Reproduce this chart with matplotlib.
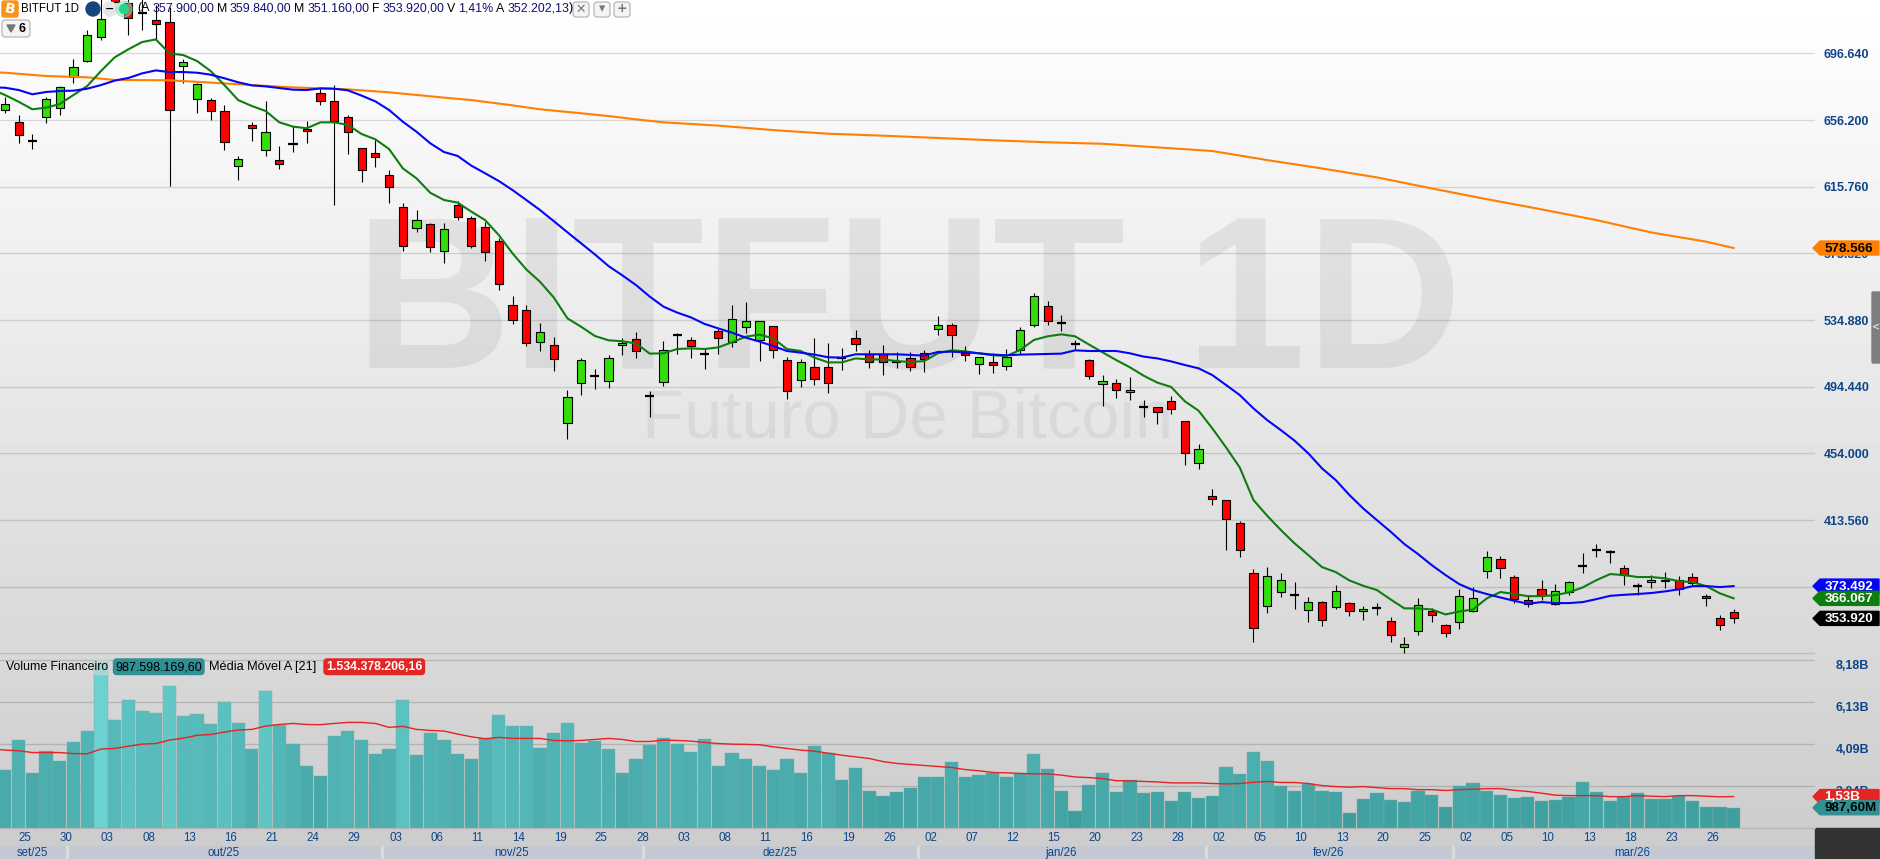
import numpy as np
import matplotlib
matplotlib.use('Agg')
import matplotlib.pyplot as plt
from matplotlib.patches import Rectangle, Polygon, Circle, FancyBboxPatch
from matplotlib.colors import LinearSegmentedColormap

# prices in thousands
open_ = [662.1,654.8,643.5,658.2,663.3,682.5,691.8,706.4,730.0,727.4,
         721.3,716.9,715.5,688.8,668.7,668.1,661.5,628.1,653.0,637.8,
         631.7,641.4,650.7,672.4,667.5,657.8,639.0,636.0,622.6,603.6,
         590.9,592.9,576.5,604.4,596.6,591.1,582.6,544.3,540.7,521.3,
         519.5,472.2,496.4,501.1,498.2,519.5,523.1,488.8,497.1,526.0,
         522.6,514.5,528.0,521.4,530.5,522.6,531.1,510.4,498.3,506.2,
         506.2,511.6,523.8,514.1,514.1,509.6,511.6,514.7,529.2,531.7,
         515.1,508.0,509.2,506.8,516.5,531.7,543.2,533.1,520.5,510.4,
         495.9,496.5,491.0,482.3,481.9,485.6,473.4,448.0,427.9,425.5,
         411.5,381.2,361.2,369.7,367.8,358.7,363.6,360.6,363.0,358.1,
         360.2,352.1,336.3,346.0,358.1,349.6,351.5,358.1,382.4,389.7,
         378.8,364.8,371.5,362.6,369.7,385.4,395.1,394.1,384.2,373.3,
         375.7,377.5,377.5,378.8,367.2,353.9,357.9]
close = [665.7,646.9,643.5,669.1,676.0,688.2,707.6,717.3,727.6,717.9,
         721.3,714.6,662.1,691.2,677.8,661.5,642.7,632.3,651.2,648.7,
         629.3,641.4,649.3,667.5,655.4,648.7,625.7,633.6,615.4,580.0,
         595.3,579.0,589.9,597.6,580.0,575.9,556.5,535.2,520.7,527.4,
         511.0,488.5,510.4,501.1,511.6,520.7,516.4,488.8,516.5,526.0,
         519.3,514.5,523.8,535.3,534.1,534.1,516.5,491.6,509.2,498.9,
         496.5,511.6,520.1,509.2,509.2,509.6,506.2,511.0,531.7,525.6,
         513.5,512.3,507.4,512.3,528.6,549.3,534.1,533.1,520.5,500.7,
         497.7,492.2,492.2,482.3,479.3,480.7,454.0,456.4,426.1,413.9,
         395.1,347.8,379.4,376.9,367.8,363.6,352.7,370.3,358.1,359.4,
         360.2,343.6,338.1,361.8,355.7,344.8,367.2,366.0,390.9,384.2,
         365.4,362.6,367.8,370.3,375.7,385.4,395.1,394.1,380.2,373.3,
         377.5,376.3,371.5,375.1,366.0,349.6,353.92]
high = [670.4,659.2,647.5,670.4,676.8,693.0,710.8,731.0,735.0,731.0,
        731.0,726.0,725.0,693.0,678.5,669.4,665.3,634.4,655.0,667.7,
        640.4,652.6,655.6,675.8,677.4,659.2,639.0,644.1,625.9,605.9,
        601.6,593.7,593.5,607.1,598.0,594.5,584.6,549.4,543.9,533.0,
        524.5,492.2,511.6,505.1,513.6,523.7,527.4,491.8,522.2,527.0,
        524.4,517.1,529.4,544.0,545.8,534.1,531.1,512.3,511.2,523.8,
        520.7,517.7,528.8,516.7,519.5,515.3,515.3,516.7,537.3,533.1,
        519.1,512.7,514.7,517.3,530.7,551.3,546.2,537.7,522.8,511.0,
        501.3,498.9,500.3,486.4,481.9,488.8,473.4,459.5,432.3,425.5,
        412.7,383.8,385.0,381.2,375.7,366.6,364.2,373.9,363.6,361.2,
        363.0,354.5,342.4,366.0,360.0,350.3,371.5,372.7,394.7,391.7,
        380.0,368.4,377.1,374.7,376.3,393.3,398.8,395.5,386.0,375.1,
        380.2,381.8,379.4,381.2,368.7,355.7,359.84]
low = [660.7,642.1,638.6,654.6,659.2,678.5,691.4,704.7,727.0,707.8,
       710.8,705.1,616.4,678.9,660.7,656.2,638.0,619.8,643.5,634.6,
       626.5,636.8,642.1,665.3,604.6,635.6,618.6,627.5,606.1,576.7,
       588.3,576.3,569.7,595.5,578.8,570.7,553.3,532.4,519.3,516.0,
       503.9,462.6,489.3,493.0,493.6,513.6,511.8,476.3,495.1,514.1,
       512.1,505.2,514.3,518.5,527.2,510.0,511.9,487.0,494.5,495.5,
       490.8,504.6,516.1,506.0,501.5,505.6,504.2,503.6,525.8,512.5,
       510.0,502.1,502.8,504.6,514.3,530.7,531.7,528.0,517.1,499.1,
       482.7,487.6,486.4,476.1,471.8,478.1,447.1,444.5,422.8,395.5,
       391.3,339.7,357.3,366.8,359.8,351.9,349.4,359.8,355.5,353.1,
       355.9,339.7,333.1,344.0,351.7,342.6,347.4,357.5,378.6,378.6,
       363.0,360.8,364.8,362.2,367.8,381.4,391.1,387.3,374.1,367.8,
       372.1,372.1,367.8,373.3,361.6,346.8,351.16]

# averages start one bar before the first visible candle, so they reach the left edge
ma_green = [675.0,671.4,667.3,662.7,663.7,665.9,671.4,676.8,685.9,694.2,699.1,
            703.5,705.1,696.6,695.6,692.0,685.9,677.4,668.3,664.7,661.7,
            654.8,652.2,651.2,654.8,654.8,653.2,647.7,644.5,638.6,626.9,
            620.8,612.1,607.7,606.1,600.6,595.5,586.4,575.3,565.6,558.1,
            548.6,535.9,530.8,525.2,522.6,522.0,520.7,514.5,514.7,517.3,
            517.7,517.3,518.3,521.4,524.8,526.0,523.8,517.3,516.1,512.1,
            509.2,509.2,511.6,511.0,511.0,510.0,509.4,510.0,514.7,516.5,
            515.9,514.7,513.5,513.1,516.7,522.8,525.0,526.2,525.0,520.1,
            515.3,510.6,506.2,501.1,496.9,494.3,485.6,479.9,469.2,457.7,
            445.5,425.7,416.2,407.5,399.4,392.3,385.0,382.0,376.9,373.7,
            371.1,365.4,360.0,360.0,359.3,356.3,358.1,359.3,366.0,369.9,
            368.7,367.4,367.4,368.0,369.7,372.7,377.1,380.8,380.2,379.0,
            379.0,378.2,376.5,375.9,373.5,369.1,366.067]
ma_blue = [676.0,675.8,674.4,671.8,673.2,673.8,674.0,675.2,677.4,680.1,681.7,
           684.5,686.3,685.3,685.3,684.9,683.7,681.5,679.1,677.2,676.6,
           675.6,674.6,674.4,675.4,675.2,674.2,671.0,667.5,662.3,655.2,
           649.1,642.1,636.8,634.4,628.5,623.9,619.2,613.7,607.7,601.6,
           594.9,588.1,581.4,574.7,567.6,562.0,556.1,549.1,543.0,539.4,
           536.5,532.5,529.8,527.2,524.2,521.8,519.1,516.1,515.1,513.9,
           512.3,512.1,514.1,514.1,514.1,514.1,513.7,513.3,515.5,515.7,
           515.3,514.7,513.9,513.5,513.9,514.1,514.3,514.5,516.5,516.1,
           516.1,516.1,514.7,512.7,511.6,509.8,507.6,505.6,501.5,495.5,
           489.4,481.3,474.2,468.1,461.7,454.0,444.9,437.8,428.7,420.6,
           413.5,406.5,399.0,392.9,386.2,380.2,374.7,371.1,368.7,366.6,
           364.6,362.8,363.8,363.2,363.2,363.8,365.6,367.6,368.2,368.7,
           369.3,370.3,371.5,373.5,373.5,372.9,373.492]
# the orange average is almost straight, read at these bars only
orange_bars = [-1,0,3,6,8,12,15,18,21,23,25,28,30,32,34,37,39,42,44,46,48,52,56,60,64,
               68,72,76,80,84,88,92,96,100,104,108,112,116,120,124,126]
ma_orange = [685.2,684.9,682.9,682.1,680.5,680.3,678.9,677.4,676.0,675.4,674.8,673.0,671.4,
             669.8,668.3,665.1,662.7,660.3,658.6,656.6,654.8,652.8,650.1,647.9,646.7,
             645.3,643.9,642.7,641.8,639.6,637.4,631.9,626.8,621.4,614.7,608.2,602.0,
             595.5,588.0,582.4,578.566]

# financial volume, in billions
volume = [2.82,4.29,2.67,3.75,3.26,4.19,4.73,8.12,5.26,6.24,5.71,5.61,6.93,5.46,5.56,5.07,
          6.15,5.12,3.85,6.68,5.02,4.09,3.02,2.53,4.48,4.73,4.29,3.60,3.85,6.24,3.55,4.63,
          4.29,3.60,3.36,4.38,5.51,4.97,4.97,3.90,4.63,5.12,4.14,4.24,3.85,2.67,3.36,4.04,
          4.38,4.09,3.70,4.34,3.02,3.65,3.36,3.02,2.82,3.36,2.67,3.99,3.65,2.33,2.92,1.79,
          1.55,1.74,1.94,2.48,2.48,3.21,2.48,2.58,2.67,2.48,2.67,3.60,2.87,1.79,0.82,2.09,
          2.67,1.74,2.33,1.70,1.74,1.30,1.74,1.45,1.55,2.97,2.62,3.70,3.26,2.04,1.79,2.14,
          1.79,1.74,0.72,1.40,1.70,1.35,1.26,1.79,1.60,1.01,2.04,2.18,1.79,1.60,1.45,1.50,
          1.30,1.35,1.50,2.23,1.74,1.30,1.50,1.70,1.40,1.40,1.55,1.30,1.01,1.01,0.9876]
volume_ma = [3.86,3.80,3.77,3.68,3.68,3.68,3.63,3.62,3.85,3.88,3.99,4.09,4.12,4.29,4.38,4.52,4.56,
             4.68,4.78,4.81,4.97,5.05,5.10,5.05,5.04,5.10,5.15,5.15,5.10,4.91,4.96,4.81,4.76,
             4.73,4.58,4.45,4.35,4.42,4.37,4.37,4.37,4.27,4.25,4.27,4.32,4.37,4.32,4.22,4.22,
             4.29,4.27,4.24,4.17,4.12,4.09,4.08,4.06,3.96,3.88,3.80,3.75,3.65,3.55,3.47,3.39,
             3.24,3.15,3.10,3.05,3.00,2.95,2.85,2.79,2.71,2.69,2.66,2.64,2.64,2.58,2.49,2.46,
             2.41,2.31,2.30,2.27,2.25,2.20,2.20,2.20,2.17,2.15,2.17,2.23,2.27,2.22,2.22,2.17,
             2.07,2.02,1.99,2.02,1.97,1.92,1.92,1.87,1.87,1.83,1.87,1.89,1.92,1.92,1.84,1.78,
             1.70,1.60,1.58,1.58,1.58,1.53,1.53,1.58,1.55,1.53,1.58,1.58,1.55,1.52,1.534]

price_ticks = [696.64,656.2,615.76,575.32,534.88,494.44,454.0,413.56,373.12,332.68]
price_labels = ['696.640','656.200','615.760','575.320','534.880','494.440','454.000','413.560','373.120','']
vol_ticks = [8.18,6.13,4.09,2.04]
vol_labels = ['8,18B','6,13B','4,09B','2,04B']
day_labels = ['25','30','03','08','13','16','21','24','29','03','06','11','14','19','25','28',
              '03','08','11','16','19','26','02','07','12','15','20','23','28','02','05','10',
              '13','20','25','02','05','10','13','18','23','26']
months = ['set/25','out/25','nov/25','dez/25','jan/26','fev/26','mar/26']

W, H = 1881, 859
NAVY = '#0d4588'
GREEN = '#35dc0c'
RED = '#ff0000'
PLOT_R = 1815
PRICE_B = 656
VOL_B = 828
FONT = 'Liberation Sans'

fig = plt.figure(figsize=(W/100, H/100), dpi=100)


def px_axes(x0, y0, x1, y1):
    return fig.add_axes([x0/W, 1 - y1/H, (x1 - x0)/W, (y1 - y0)/H])


# background gradient and the strips under the volume panel
bg = px_axes(0, 0, W, H)
rows = np.arange(H)
shade = np.interp(rows, [0, 280, 580, 660, 828], [255, 238, 220, 216, 205])
bg.imshow(shade[:, None], cmap='gray', vmin=0, vmax=255, aspect='auto', extent=(0, W, H, 0))
bg.add_patch(Rectangle((0, VOL_B), PLOT_R, 18, color='#cdcdcd'))
bg.add_patch(Rectangle((0, 846), PLOT_R, 13, color='#c3c8d3'))
bg.add_patch(Rectangle((PLOT_R, VOL_B), W - PLOT_R, H - VOL_B, color='#333333'))
for sx in [66.5, 382, 643, 918, 1206, 1452.5]:
    bg.add_patch(Rectangle((sx - 1, 846), 2, 13, color='#dadada'))
bg.axis('off')

n = len(close)
x = np.arange(n)
line_x = np.arange(-1, n)
xlim = (-0.357, 131.93)

# price panel
ax = px_axes(0, 0, PLOT_R, PRICE_B)
ax.patch.set_alpha(0)
ax.set_xlim(xlim)
ax.set_ylim(331.1, 729.0)
for s in ax.spines.values():
    s.set_visible(False)
ax.set_xticks([])
ax.yaxis.tick_right()
ax.set_yticks(price_ticks)
ax.set_yticklabels(price_labels, ha='right', color=NAVY, fontweight='bold', fontsize=9, family=FONT)
ax.tick_params(axis='y', length=0, pad=39)
ax.grid(axis='y', color='black', alpha=0.13, lw=1)
ax.set_axisbelow(True)

wm = ax.transAxes
ax.text(355/PLOT_R, 1 - 368/PRICE_B, 'BITFUT 1D', transform=wm, fontsize=156, fontweight='bold', family=FONT,
        color='black', alpha=0.065, va='baseline', ha='left', zorder=0.5)
ax.text(642/PLOT_R, 1 - 438/PRICE_B, 'Futuro De Bitcoin', transform=wm, fontsize=49.5, family=FONT,
        color='black', alpha=0.055, va='baseline', ha='left', zorder=0.5)

o = np.array(open_)
c = np.array(close)
ax.vlines(x, low, high, color='black', lw=0.8, zorder=2)
up = c > o
down = c < o
doji = c == o
ax.bar(x[up], (c - o)[up], bottom=o[up], width=0.6, color=GREEN, edgecolor='black', lw=0.8, zorder=2.2)
ax.bar(x[down], (o - c)[down], bottom=c[down], width=0.6, color=RED, edgecolor='black', lw=0.8, zorder=2.2)
ax.hlines(c[doji], x[doji] - 0.33, x[doji] + 0.33, color='black', lw=1.6, zorder=2.2)

ax.plot(orange_bars, ma_orange, color='#ff8000', lw=1.5, zorder=3)
ax.plot(line_x, ma_green, color='#0e7d10', lw=1.5, zorder=3.1)
ax.plot(line_x, ma_blue, color='#0505f5', lw=1.5, zorder=3.2)

# volume panel
ax2 = px_axes(0, PRICE_B, PLOT_R, VOL_B)
ax2.patch.set_alpha(0)
ax2.set_xlim(xlim)
ax2.set_ylim(0, 8.39)
for s in ax2.spines.values():
    s.set_visible(False)
ax2.spines['bottom'].set_visible(True)
ax2.spines['bottom'].set_color('#b4b4b4')
ax2.yaxis.tick_right()
ax2.set_yticks(vol_ticks)
ax2.set_yticklabels(vol_labels, ha='right', color=NAVY, fontweight='bold', fontsize=9, family=FONT, va='top')
ax2.tick_params(axis='y', length=0, pad=39)
ax2.grid(axis='y', color='black', alpha=0.15, lw=1)
ax2.set_axisbelow(True)
ax2.set_xticks(x[1:len(day_labels)*3:3])
ax2.set_xticklabels(day_labels, ha='left', color=NAVY, fontsize=8.3, family=FONT)
ax2.tick_params(axis='x', length=0, pad=3)

teal = LinearSegmentedColormap.from_list('teal', ['#3a9898', '#44a6a6', '#4eb0b0', '#5bc0c0', '#6dd2d2'])
ax2.bar(x, volume, width=0.96, color=teal(np.array(volume)/8.2), edgecolor='#7fa9a9', lw=0.3, zorder=2)
ax2.plot(line_x, volume_ma, color='#e62222', lw=1, zorder=3)

# overlay in pixel coordinates: badges and legends
ov = px_axes(0, 0, W, H)
ov.set_xlim(0, W)
ov.set_ylim(H, 0)
ov.axis('off')
ov.patch.set_alpha(0)

for m, mx in zip(months, [32.6, 224, 512, 780, 1061, 1329, 1632]):
    ov.text(mx, 853, m, ha='center', va='center', color=NAVY, fontsize=8.3, family=FONT, zorder=2)


def tag(axis, value, text, face, tc):
    y = ov.transData.inverted().transform(axis.transData.transform((0, value)))[1]
    ov.add_patch(Polygon([(1813, y), (1820, y - 7), (1879, y - 7), (1879, y + 7), (1820, y + 7)],
                         closed=True, color=face, zorder=2))
    ov.text(1824.5, y + 0.5, text, ha='left', va='center', color=tc, fontweight='bold',
            fontsize=9.6, family=FONT, zorder=3)


tag(ax, 578.566, '578.566', '#ff8000', 'black')
tag(ax, ma_blue[-1], '373.492', '#0505f5', 'white')
tag(ax, ma_green[-1], '366.067', '#0e7d10', 'white')
tag(ax, close[-1], '353.920', 'black', 'white')
tag(ax2, volume_ma[-1], '1,53B', '#e22626', 'white')
tag(ax2, volume[-1], '987,60M', '#2f9094', 'black')

# side handle
ov.add_patch(FancyBboxPatch((1872, 292), 9, 71, boxstyle='round,pad=0,rounding_size=1.5', color='#7e7e7e', zorder=2))
ov.text(1876, 327, '<', color='#dddddd', fontsize=7, ha='center', va='center', fontweight='bold', zorder=3)

# header icons
ov.add_patch(FancyBboxPatch((2, 1), 16, 16, boxstyle='round,pad=0,rounding_size=2', color='#f7931a', zorder=4))
ov.text(10, 9.5, 'B', color='white', fontweight='bold', fontsize=10, ha='center', va='center', rotation=-12, zorder=5)
ov.add_patch(Circle((93, 9), 7, color='#17467c', zorder=4))
ov.add_patch(Circle((110, 9), 7, color='#e6e6e6', zorder=4))
ov.text(110, 8.5, '\u2212', color='black', fontweight='bold', fontsize=8, ha='center', va='center', zorder=5)
ov.add_patch(Circle((124, 9), 8, color='#7fe0b0', alpha=0.5, zorder=4))
ov.add_patch(Circle((124, 9), 4.5, color='#25d68a', zorder=4.5))
ov.text(21, 8.5, 'BITFUT 1D', color='black', fontsize=8.3, family=FONT, va='center', zorder=5)

fig.canvas.draw()
renderer = fig.canvas.get_renderer()
runs = [('(A ', 'black'), ('357.900,00 ', '#101070'), ('M ', 'black'), ('359.840,00 ', '#101070'),
        ('M ', 'black'), ('351.160,00 ', '#101070'), ('F ', 'black'), ('353.920,00 ', '#101070'),
        ('V ', 'black'), ('1,41% ', '#101070'), ('A ', 'black'), ('352.202,13', '#101070'), (')', 'black')]
tx = 137.0
for s, col in runs:
    t = ov.text(tx, 8.5, s.strip(), color=col, fontsize=8.9, family=FONT, va='center', zorder=5)
    tx += t.get_window_extent(renderer).width + (2.8 if s.endswith(' ') else 0)

for bx, sym in [(581, '\u2715'), (602, '\u25be'), (622, '+')]:
    ov.add_patch(FancyBboxPatch((bx - 8, 2), 16, 15, boxstyle='round,pad=0,rounding_size=3', fc='#f4f4f4', ec='#b0b0b0', lw=0.8, zorder=4))
    ov.text(bx, 9, sym, color='#777777', fontsize=9, ha='center', va='center', fontweight='bold', zorder=5)
ov.add_patch(FancyBboxPatch((2, 20), 28, 17, boxstyle='round,pad=0,rounding_size=3', fc='#f4f4f4', ec='#b0b0b0', lw=0.8, zorder=4))
ov.add_patch(Polygon([(7, 25), (15, 25), (11, 32)], closed=True, color='#777777', zorder=5))
ov.text(22, 28.5, '6', color='black', fontweight='bold', fontsize=9, family=FONT, ha='center', va='center', zorder=5)

# volume legend
ov.add_patch(Rectangle((94, 660), 15, 14, color='#d6d6d6', alpha=0.55, zorder=1.5))
ov.text(6, 667, 'Volume Financeiro', color='black', fontsize=8.8, family=FONT, va='center', zorder=5)
ov.add_patch(FancyBboxPatch((113.5, 659), 90.5, 15.5, boxstyle='round,pad=0,rounding_size=3', color='#2f9094', zorder=4))
ov.text(159, 667, '987.598.169,60', color='black', fontsize=9, family=FONT, ha='center', va='center', zorder=5)
ov.text(209, 667, 'M\u00e9dia M\u00f3vel A [21]', color='black', fontsize=9.2, family=FONT, va='center', zorder=5)
ov.add_patch(FancyBboxPatch((324, 659), 100.5, 15.5, boxstyle='round,pad=0,rounding_size=3', color='#e22626', zorder=4))
ov.text(374.5, 667, '1.534.378.206,16', color='white', fontweight='bold', fontsize=8.8, family=FONT, ha='center', va='center', zorder=5)

fig.savefig('out.png', dpi=100)
